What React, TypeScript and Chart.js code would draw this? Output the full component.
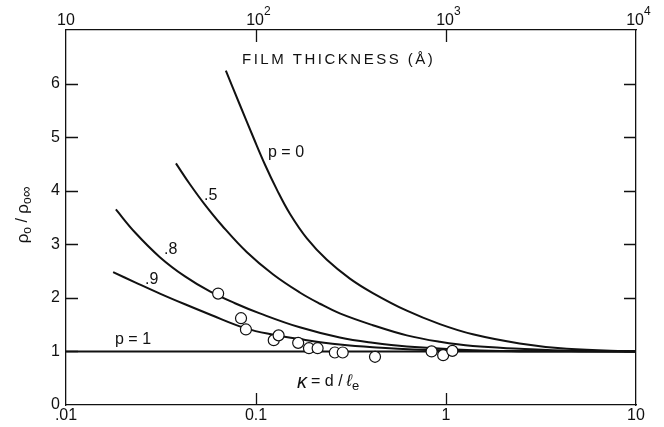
import React, { useEffect, useRef } from "react";
import { Chart, registerables } from "chart.js";

Chart.register(...registerables);

// ---- data ----
const p0Kappa = [0.0694, 0.0823, 0.0975, 0.1114, 0.1288, 0.1508, 0.1853, 0.236, 0.312, 0.412, 0.622, 0.928, 1.384, 2.44, 4.32, 10];
const p0Rho = [6.24, 5.6, 4.97, 4.49, 4.02, 3.57, 3.11, 2.71, 2.36, 2.09, 1.76, 1.51, 1.32, 1.15, 1.05, 1.0];

const p5Kappa = [0.0379, 0.0449, 0.0538, 0.0662, 0.0896, 0.1227, 0.17, 0.217, 0.276, 0.412, 0.622, 0.928, 1.384, 2.44, 4.53, 10];
const p5Rho = [4.51, 4.12, 3.74, 3.35, 2.85, 2.44, 2.1, 1.89, 1.71, 1.49, 1.3, 1.18, 1.1, 1.05, 1.01, 1.0];

const p8Kappa = [0.0183, 0.0231, 0.0312, 0.0423, 0.0572, 0.0775, 0.1048, 0.17, 0.276, 0.412, 0.622, 1.384, 2.44, 10];
const p8Rho = [3.65, 3.22, 2.76, 2.4, 2.12, 1.9, 1.71, 1.45, 1.26, 1.16, 1.09, 1.02, 1.005, 1.0];

const p9Kappa = [0.0177, 0.0231, 0.0312, 0.0423, 0.0572, 0.0885, 0.1242, 0.17, 0.276, 0.412, 0.928, 2.44, 10];
const p9Rho = [2.48, 2.29, 2.08, 1.88, 1.69, 1.43, 1.31, 1.23, 1.13, 1.08, 1.02, 1.005, 1.0];

const p1Kappa = [0.01, 10];
const p1Rho = [1, 1];

const dataKappa = [0.0632, 0.0834, 0.0885, 0.124, 0.1315, 0.1667, 0.19, 0.211, 0.26, 0.286, 0.423, 0.84, 0.966, 1.08];
const dataRho = [2.08, 1.62, 1.41, 1.21, 1.3, 1.16, 1.06, 1.06, 0.98, 0.98, 0.9, 1.0, 0.93, 1.01];

const bottomTicks = [0.01, 0.1, 1, 10];
const bottomTickLabels = [".01", "0.1", "1", "10"];
const topTicks = [10, 100, 1000, 10000];
const topTickBase = ["10", "10", "10", "10"];
const topTickExp = ["", "2", "3", "4"];
const yTicks = [0, 1, 2, 3, 4, 5, 6];
const innerYTicks = [1, 2, 3, 4, 5, 6];
const innerBottomTicks = [0.1, 1];
const innerTopTicks = [100, 1000];

const FONT = '"Liberation Sans", Arial, sans-serif';
const INK = "#111";

const pts = (xs: number[], ys: number[]) => xs.map((x, i) => ({ x, y: ys[i] }));

const curve = (xs: number[], ys: number[]) => ({
  type: "line" as const,
  data: pts(xs, ys),
  borderColor: INK,
  borderWidth: 2,
  pointRadius: 0,
  fill: false,
  tension: 0.4,
  order: 2,
  xAxisID: "x",
  yAxisID: "y",
});

const decorPlugin = {
  id: "decor",
  afterDatasetsDraw(chart: any) {
    const { ctx, chartArea, scales } = chart;
    const { left, right, top, bottom } = chartArea;
    ctx.save();
    ctx.strokeStyle = INK;
    ctx.lineWidth = 1.3;
    // inner tick marks
    ctx.beginPath();
    for (const v of innerYTicks) {
      const y = Math.round(scales.y.getPixelForValue(v)) + 0.5;
      ctx.moveTo(left, y);
      ctx.lineTo(left + 12, y);
      ctx.moveTo(right, y);
      ctx.lineTo(right - 12, y);
    }
    for (const v of innerBottomTicks) {
      const x = Math.round(scales.x.getPixelForValue(v)) + 0.5;
      ctx.moveTo(x, bottom);
      ctx.lineTo(x, bottom - 12);
    }
    for (const v of innerTopTicks) {
      const x = Math.round(scales.xTop.getPixelForValue(v)) + 0.5;
      ctx.moveTo(x, top);
      ctx.lineTo(x, top + 12);
    }
    ctx.stroke();

    ctx.fillStyle = INK;
    ctx.textAlign = "left";

    // top axis labels (film thickness, powers of ten)
    ctx.textBaseline = "alphabetic";
    topTicks.forEach((v, i) => {
      const px = scales.xTop.getPixelForValue(v);
      ctx.font = `16px ${FONT}`;
      const bw = ctx.measureText(topTickBase[i]).width;
      const bx = topTickExp[i] ? px - bw + 8 : px - bw / 2;
      ctx.fillText(topTickBase[i], bx, 25);
      if (topTickExp[i]) {
        ctx.font = `12px ${FONT}`;
        ctx.fillText(topTickExp[i], bx + bw, 15);
      }
    });

    // annotations
    ctx.textBaseline = "middle";
    ctx.font = `15px ${FONT}`;
    (ctx as any).letterSpacing = "2.5px";
    ctx.fillText("FILM THICKNESS (Å)", 242, 60);
    (ctx as any).letterSpacing = "0px";
    ctx.font = `16px ${FONT}`;
    ctx.fillText("p = 0", 268, 153);
    ctx.fillText(".5", 204, 196);
    ctx.fillText(".8", 164, 250);
    ctx.fillText(".9", 145, 280);
    ctx.fillText("p = 1", 115, 340);

    // kappa = d / l_e
    ctx.font = `italic 20px ${FONT}`;
    ctx.fillText("κ", 297, 382);
    let x = 297 + ctx.measureText("κ").width + 4;
    ctx.font = `16px ${FONT}`;
    ctx.fillText("= d /", x, 382);
    x += ctx.measureText("= d /").width + 4;
    ctx.font = `italic 17px ${FONT}`;
    ctx.fillText("ℓ", x, 381);
    x += ctx.measureText("ℓ").width;
    ctx.font = `13px ${FONT}`;
    ctx.fillText("e", x, 386);

    // y axis title (rotated)
    ctx.translate(23, 215);
    ctx.rotate(-Math.PI / 2);
    const parts: [string, number, number][] = [
      ["ρ", 17, 0],
      ["o", 12, 5],
      [" / ", 16, 0],
      ["ρ", 17, 0],
      ["o", 12, 5],
      ["∞", 15, 4],
    ];
    let w = 0;
    for (const [t, s] of parts) {
      ctx.font = `${s}px ${FONT}`;
      w += ctx.measureText(t).width;
    }
    let cx = -w / 2;
    for (const [t, s, dy] of parts) {
      ctx.font = `${s}px ${FONT}`;
      ctx.fillText(t, cx, dy);
      cx += ctx.measureText(t).width;
    }
    ctx.restore();
  },
};

export default function App() {
  const ref = useRef<HTMLCanvasElement | null>(null);

  useEffect(() => {
    if (!ref.current) return;
    const border = { display: true, color: INK, width: 1.3 };
    const grid = { display: true, drawOnChartArea: false, drawTicks: false, color: INK };
    const chart = new Chart(ref.current, {
      type: "line",
      data: {
        datasets: [
          {
            type: "scatter" as const,
            data: pts(dataKappa, dataRho),
            showLine: false,
            pointRadius: 5.5,
            pointHoverRadius: 5.5,
            pointBackgroundColor: "#fff",
            pointBorderColor: INK,
            pointBorderWidth: 1.2,
            order: 0,
            xAxisID: "x",
            yAxisID: "y",
          } as any,
          curve(p0Kappa, p0Rho),
          curve(p5Kappa, p5Rho),
          curve(p8Kappa, p8Rho),
          curve(p9Kappa, p9Rho),
          curve(p1Kappa, p1Rho),
        ],
      },
      options: {
        animation: false,
        responsive: false,
        devicePixelRatio: 1,
        layout: { padding: 0 },
        plugins: { legend: { display: false }, tooltip: { enabled: false } },
        scales: {
          x: {
            type: "logarithmic",
            position: "bottom",
            min: 0.01,
            max: 10,
            afterBuildTicks: (s: any) => {
              s.ticks = bottomTicks.map((v) => ({ value: v }));
            },
            afterFit: (s: any) => {
              s.height = 22;
            },
            ticks: {
              autoSkip: false,
              maxRotation: 0,
              padding: 1,
              color: INK,
              font: { family: FONT, size: 16 },
              callback: (v: any) => {
                const i = bottomTicks.findIndex((t) => Math.abs(t - Number(v)) < 1e-9);
                return i >= 0 ? bottomTickLabels[i] : "";
              },
            },
            grid,
            border,
          },
          xTop: {
            type: "logarithmic",
            position: "top",
            min: 10,
            max: 10000,
            afterBuildTicks: (s: any) => {
              s.ticks = topTicks.map((v) => ({ value: v }));
            },
            afterFit: (s: any) => {
              s.height = 30;
            },
            ticks: { display: false },
            grid,
            border,
          },
          y: {
            type: "linear",
            position: "left",
            min: 0,
            max: 7,
            afterBuildTicks: (s: any) => {
              s.ticks = yTicks.map((v) => ({ value: v }));
            },
            afterFit: (s: any) => {
              s.width = 66;
            },
            ticks: {
              padding: 6,
              color: INK,
              font: { family: FONT, size: 16 },
            },
            grid,
            border,
          },
          yRight: {
            type: "linear",
            position: "right",
            min: 0,
            max: 7,
            afterFit: (s: any) => {
              s.width = 28;
            },
            ticks: { display: false },
            grid,
            border,
          },
        },
      } as any,
      plugins: [decorPlugin],
    });
    return () => chart.destroy();
  }, []);

  return (
    <div style={{ position: "absolute", left: 0, top: 0, width: 664, height: 427, background: "#fff" }}>
      <canvas ref={ref} width={664} height={427} style={{ display: "block", width: 664, height: 427 }} />
    </div>
  );
}
